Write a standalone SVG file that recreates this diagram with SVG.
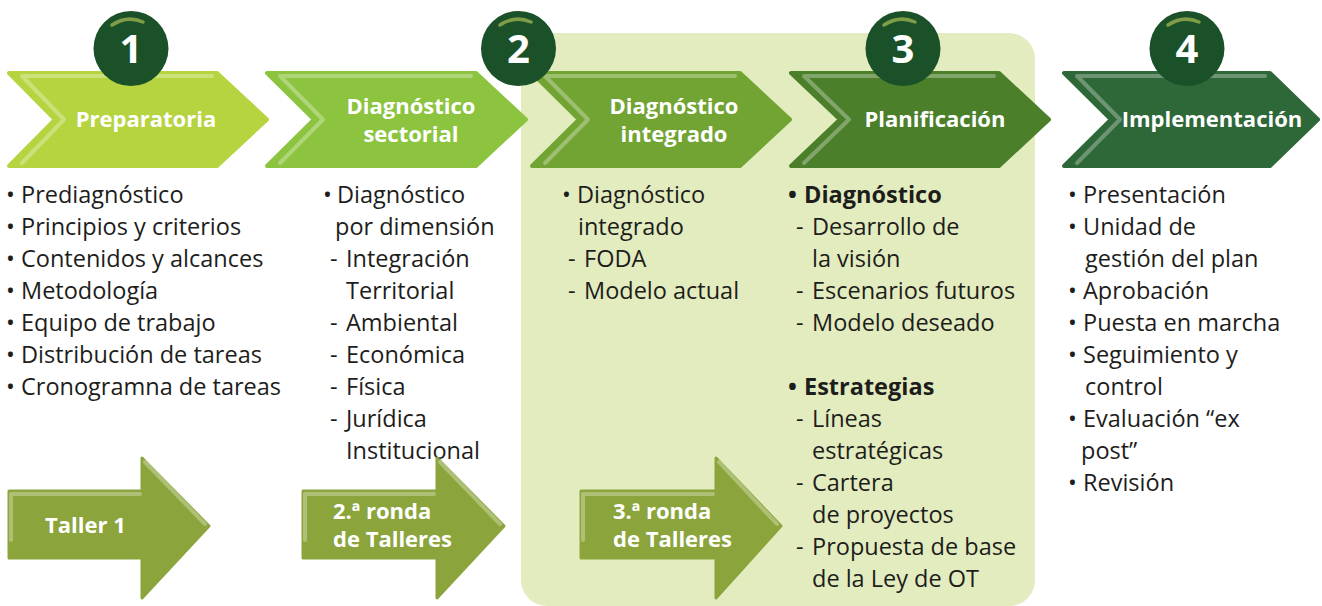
<svg xmlns="http://www.w3.org/2000/svg" width="1322" height="606" viewBox="0 0 1322 606">
<defs>
<style>
.t{font-family:"Open Sans","Noto Sans","DejaVu Sans",sans-serif;font-size:23.5px;fill:#1d1d1b}
.b{font-weight:700}
.h{font-family:"Open Sans","Noto Sans","DejaVu Sans",sans-serif;font-size:22px;font-weight:700;fill:#ffffff}
.num{font-family:"Open Sans","Noto Sans","DejaVu Sans",sans-serif;font-size:40px;font-weight:700;fill:#ffffff;text-anchor:middle}
.hl{fill:none;stroke:#ffffff;stroke-opacity:0.3;stroke-width:4;stroke-linejoin:round;stroke-linecap:round}
.circ{fill:#1b5129}
.shine{fill:none;stroke:#7f9c47;stroke-width:3.5;stroke-linecap:round}
.arr{fill:#8ba53c;stroke:#8ba53c;stroke-width:3;stroke-linejoin:round}
.chev{stroke-width:4;stroke-linejoin:round}
</style>
</defs>
<rect id="panel" x="521" y="33" width="514" height="573" rx="26" fill="#e3ecbf"/>

<g id="stage1">
<path class="chev" d="M9,73 H217 L267,119.5 L217,166 H9 L55,119.5 Z" fill="#b5d43f" stroke="#b5d43f"/>
<path class="hl" d="M212,76 H22 L64,119.5 L22,163"/>
<text class="h" x="146" y="127" text-anchor="middle">Preparatoria</text>
</g>
<g id="stage2">
<path class="chev" d="M267,73 H476 L526,119.5 L476,166 H267 L314,119.5 Z" fill="#8cc43f" stroke="#8cc43f"/>
<path class="hl" d="M471,76 H280 L323,119.5 L280,163"/>
<text class="h" text-anchor="middle"><tspan x="411" y="114">Diagnóstico</tspan><tspan x="411" y="142">sectorial</tspan></text>
</g>
<g id="stage3">
<path class="chev" d="M532,73 H740 L790,119.5 L740,166 H532 L579,119.5 Z" fill="#72a433" stroke="#72a433"/>
<path class="hl" d="M735,76 H545 L588,119.5 L545,163"/>
<text class="h" text-anchor="middle"><tspan x="674" y="114">Diagnóstico</tspan><tspan x="674" y="142">integrado</tspan></text>
</g>
<g id="stage4">
<path class="chev" d="M791,73 H999 L1049,119.5 L999,166 H791 L840,119.5 Z" fill="#4b7f2a" stroke="#4b7f2a"/>
<path class="hl" d="M994,76 H804 L849,119.5 L804,163"/>
<text class="h" x="935" y="127" text-anchor="middle">Planificación</text>
</g>
<g id="stage5">
<path class="chev" d="M1064,73 H1270 L1318,119.5 L1270,166 H1064 L1111,119.5 Z" fill="#2e6838" stroke="#2e6838"/>
<path class="hl" d="M1265,76 H1077 L1120,119.5 L1077,163"/>
<text class="h" x="1212" y="127" text-anchor="middle">Implementación</text>
</g>

<g id="badge1"><circle class="circ" cx="131" cy="48.5" r="37.5"/><path class="shine" d="M112,25 Q127,15 143,22"/><text class="num" x="131" y="63">1</text></g>
<g id="badge2"><circle class="circ" cx="518.5" cy="48.5" r="37.5"/><path class="shine" d="M500,25 Q515,15 531,22"/><text class="num" x="518.5" y="63">2</text></g>
<g id="badge3"><circle class="circ" cx="903" cy="48.5" r="37.5"/><path class="shine" d="M884,25 Q899,15 915,22"/><text class="num" x="903" y="63">3</text></g>
<g id="badge4"><circle class="circ" cx="1187" cy="48.5" r="37.5"/><path class="shine" d="M1168,25 Q1183,15 1199,22"/><text class="num" x="1187" y="63">4</text></g>

<g id="col1">
<text class="t" x="6" y="203">•</text><text class="t" x="21" y="203">Prediagnóstico</text>
<text class="t" x="6" y="235">•</text><text class="t" x="21" y="235">Principios y criterios</text>
<text class="t" x="6" y="267">•</text><text class="t" x="21" y="267">Contenidos y alcances</text>
<text class="t" x="6" y="299">•</text><text class="t" x="21" y="299">Metodología</text>
<text class="t" x="6" y="331">•</text><text class="t" x="21" y="331">Equipo de trabajo</text>
<text class="t" x="6" y="363">•</text><text class="t" x="21" y="363">Distribución de tareas</text>
<text class="t" x="6" y="395">•</text><text class="t" x="21" y="395">Cronogramna de tareas</text>
</g>

<g id="col2">
<text class="t" x="323" y="203">•</text><text class="t" x="337" y="203">Diagnóstico</text>
<text class="t" x="335" y="235">por dimensión</text>
<text class="t" x="330" y="267">-</text><text class="t" x="346" y="267">Integración</text>
<text class="t" x="346" y="299">Territorial</text>
<text class="t" x="330" y="331">-</text><text class="t" x="346" y="331">Ambiental</text>
<text class="t" x="330" y="363">-</text><text class="t" x="346" y="363">Económica</text>
<text class="t" x="330" y="395">-</text><text class="t" x="346" y="395">Física</text>
<text class="t" x="330" y="427">-</text><text class="t" x="346" y="427">Jurídica</text>
<text class="t" x="346" y="459">Institucional</text>
</g>

<g id="col3">
<text class="t" x="562" y="203">•</text><text class="t" x="577" y="203">Diagnóstico</text>
<text class="t" x="578" y="235">integrado</text>
<text class="t" x="568" y="267">-</text><text class="t" x="584" y="267">FODA</text>
<text class="t" x="568" y="299">-</text><text class="t" x="584" y="299">Modelo actual</text>
</g>

<g id="col4">
<text class="t b" x="788" y="203">•</text><text class="t b" x="804" y="203">Diagnóstico</text>
<text class="t" x="796" y="235">-</text><text class="t" x="812" y="235">Desarrollo de</text>
<text class="t" x="812" y="267">la visión</text>
<text class="t" x="796" y="299">-</text><text class="t" x="812" y="299">Escenarios futuros</text>
<text class="t" x="796" y="331">-</text><text class="t" x="812" y="331">Modelo deseado</text>
<text class="t b" x="788" y="395">•</text><text class="t b" x="804" y="395">Estrategias</text>
<text class="t" x="796" y="427">-</text><text class="t" x="812" y="427">Líneas</text>
<text class="t" x="812" y="459">estratégicas</text>
<text class="t" x="796" y="491">-</text><text class="t" x="812" y="491">Cartera</text>
<text class="t" x="812" y="523">de proyectos</text>
<text class="t" x="796" y="555">-</text><text class="t" x="812" y="555">Propuesta de base</text>
<text class="t" x="812" y="587">de la Ley de OT</text>
</g>

<g id="col5">
<text class="t" x="1068" y="203">•</text><text class="t" x="1083" y="203">Presentación</text>
<text class="t" x="1068" y="235">•</text><text class="t" x="1083" y="235">Unidad de</text>
<text class="t" x="1085" y="267">gestión del plan</text>
<text class="t" x="1068" y="299">•</text><text class="t" x="1083" y="299">Aprobación</text>
<text class="t" x="1068" y="331">•</text><text class="t" x="1083" y="331">Puesta en marcha</text>
<text class="t" x="1068" y="363">•</text><text class="t" x="1083" y="363">Seguimiento y</text>
<text class="t" x="1085" y="395">control</text>
<text class="t" x="1068" y="427">•</text><text class="t" x="1083" y="427">Evaluación “ex</text>
<text class="t" x="1081" y="459">post”</text>
<text class="t" x="1068" y="491">•</text><text class="t" x="1083" y="491">Revisión</text>
</g>

<g id="taller1">
<path class="arr" d="M9,491 H142 V458 L209,526 L142,598 V558 H9 Z"/>
<path class="hl" d="M11,540 V494 H140 M145,462 L205,524"/>
<text class="h" x="45" y="533">Taller 1</text>
</g>
<g id="taller2">
<path class="arr" d="M303,491 H437 V458 L504,526 L437,598 V558 H303 Z"/>
<path class="hl" d="M305,540 V494 H434 M440,462 L500,524"/>
<text class="h"><tspan x="333" y="519">2.ª ronda</tspan><tspan x="333" y="547">de Talleres</tspan></text>
</g>
<g id="taller3">
<path class="arr" d="M581,491 H716 V458 L781,526 L716,598 V558 H581 Z"/>
<path class="hl" d="M583,540 V494 H713 M719,462 L777,524"/>
<text class="h"><tspan x="613" y="519">3.ª ronda</tspan><tspan x="613" y="547">de Talleres</tspan></text>
</g>
<g id="connectors"/>
</svg>
